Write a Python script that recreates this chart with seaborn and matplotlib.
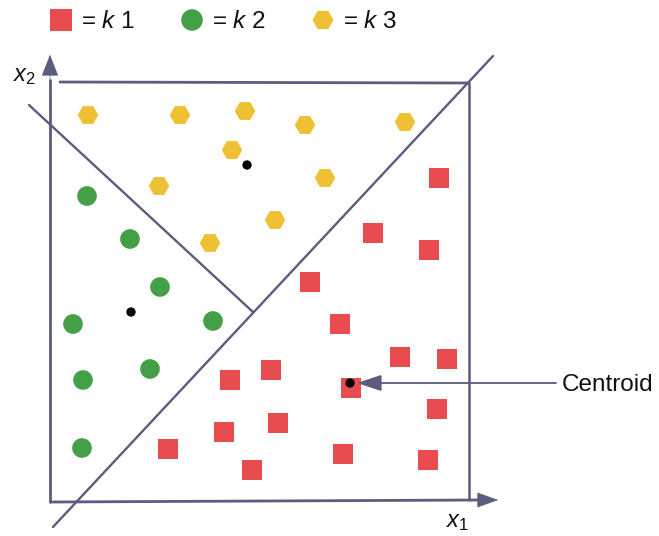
import matplotlib
matplotlib.use("Agg")
import matplotlib.pyplot as plt
import seaborn as sns

sns.set_style("white")
plt.rcParams['font.family'] = ['Liberation Sans', 'DejaVu Sans']
plt.rcParams['mathtext.fontset'] = 'custom'
plt.rcParams['mathtext.rm'] = 'Liberation Sans'
plt.rcParams['mathtext.it'] = 'Liberation Sans:italic'

# Punkte der drei Cluster (Bildkoordinaten, y nach unten)
k1_x = [439, 373, 429, 310, 340, 400, 447, 230, 271, 351, 437, 224, 278, 168, 343, 428, 252]
k1_y = [178, 233, 250, 282, 324, 357, 359, 380, 370, 388, 409, 432, 423, 449, 454, 460, 470]
k2_x = [87, 130, 160, 213, 73, 150, 83, 82]
k2_y = [196, 239, 287, 321, 324, 369, 380, 448]
k3_x = [88, 180, 245, 305, 405, 232, 159, 325, 275, 210]
k3_y = [115, 115, 111, 125, 122, 150, 186, 178, 220, 243]
cent_x = [247, 131, 350]
cent_y = [165, 312, 383]

# Legende
leg_x = [61, 192, 323]
leg_y = [20, 20, 20]
leg_labels = ['= $k$ 1', '= $k$ 2', '= $k$ 3']

# Trennlinien
diag_x = [53, 493]
diag_y = [527, 56]
split_x = [29, 253]
split_y = [105, 312]

red = '#e84c50'
green = '#43a047'
yellow = '#eec033'
ink = '#5c5c7c'

fig = plt.figure(figsize=(6.59, 5.36), dpi=100)
ax = fig.add_axes([0, 0, 1, 1])
ax.set_xlim(0, 659)
ax.set_ylim(536, 0)
ax.axis('off')

# Rahmen und Achsen
ax.plot([50, 50], [502, 80], color=ink, lw=2.0)
ax.plot([60, 469], [82, 83], color=ink, lw=2.0)
ax.plot([469, 469], [83, 500], color=ink, lw=1.8)
ax.plot([52, 480], [502, 500], color=ink, lw=2.0)
ax.plot(diag_x, diag_y, color=ink, lw=1.7)
ax.plot(split_x, split_y, color=ink, lw=1.7)

ax.annotate('', xy=(50, 52), xytext=(50, 84),
            arrowprops=dict(arrowstyle='-|>,head_length=1.4,head_width=0.55',
                            color=ink, lw=0.5))
ax.annotate('', xy=(501, 500), xytext=(472, 500),
            arrowprops=dict(arrowstyle='-|>,head_length=1.4,head_width=0.5',
                            color=ink, lw=0.5))

# Cluster
sns.scatterplot(x=k1_x, y=k1_y, marker='s', s=190, color=red, edgecolor='none', ax=ax)
sns.scatterplot(x=k2_x, y=k2_y, marker='o', s=200, color=green, edgecolor='none', ax=ax)
sns.scatterplot(x=k3_x, y=k3_y, marker='H', s=220, color=yellow, edgecolor='none', ax=ax)
sns.scatterplot(x=cent_x, y=cent_y, marker='o', s=45, color='black', edgecolor='none', ax=ax)

# Centroid-Pfeil
ax.annotate('', xy=(357, 383), xytext=(556, 383),
            arrowprops=dict(arrowstyle='-|>,head_length=1.5,head_width=0.5',
                            color=ink, lw=1.3, shrinkA=0, shrinkB=0))
ax.text(562, 385, 'Centroid', fontsize=17.5, va='center', ha='left', color='#111111')

# Achsenbeschriftung
ax.text(13, 76, '$x_2$', fontsize=17, va='center', ha='left', color='#111111')
ax.text(446, 522, '$x_1$', fontsize=17, va='center', ha='left', color='#111111')

# Legende oben
sns.scatterplot(x=leg_x[:1], y=leg_y[:1], marker='s', s=250, color=red, edgecolor='none', ax=ax)
sns.scatterplot(x=leg_x[1:2], y=leg_y[1:2], marker='o', s=240, color=green, edgecolor='none', ax=ax)
sns.scatterplot(x=leg_x[2:], y=leg_y[2:], marker='H', s=230, color=yellow, edgecolor='none', ax=ax)
for lx, lab in zip(leg_x, leg_labels):
    ax.text(lx + 20, 22, lab, fontsize=17.5, va='center', ha='left', color='#111111')

fig.savefig('out.png', dpi=100)
